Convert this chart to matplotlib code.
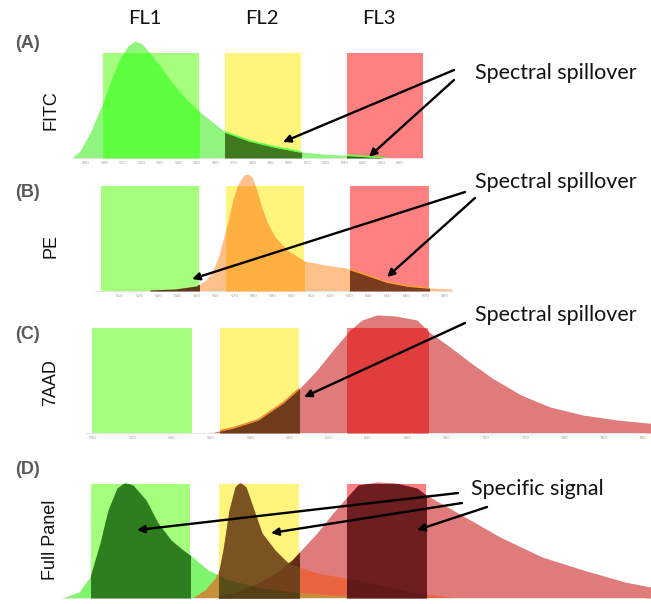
import numpy as np
import matplotlib.pyplot as plt

# figure size in pixels
W, H = 651, 604

# ---------------- data (wavelength nm / relative intensity) ----------------
# FITC emission (panel A)
fitc_nm = [486, 490, 495, 502, 506.5, 510.5, 514, 517.5, 521, 525, 530, 535, 543.5,
           550, 562.5, 575, 587.5, 600.5, 615, 630, 642.5]
fitc_int = [0, 0.067, 0.238, 0.552, 0.790, 0.962, 1.067, 1.114, 1.086, 1.0, 0.876,
            0.743, 0.552, 0.438, 0.248, 0.162, 0.105, 0.057, 0.033, 0.019, 0]

# PE emission (panel B)
pe_nm = [525, 537.5, 548, 552.5, 556, 559, 561.5, 564, 566.5, 569, 572, 574, 576, 578,
         580.5, 583.5, 587.5, 593.5, 602, 612.5, 623, 633.5, 643.5, 654, 664.5, 676]
pe_int = [0.01, 0.019, 0.048, 0.095, 0.181, 0.314, 0.486, 0.657, 0.867, 1.019, 1.105,
          1.114, 1.086, 0.981, 0.819, 0.657, 0.514, 0.390, 0.286, 0.248, 0.219, 0.152,
          0.086, 0.048, 0.029, 0.019]

# 7AAD emission (panel C)
aad_nm = [555, 566.5, 579, 591.5, 600, 608.5, 616.5, 625, 631, 638.5, 648, 658.5, 664.5,
          675, 685.5, 696, 710.5, 725, 741.5, 758.5, 774, 775.5]
aad_int = [0, 0.048, 0.124, 0.286, 0.429, 0.6, 0.790, 0.981, 1.076, 1.124, 1.114, 1.076,
           0.962, 0.819, 0.667, 0.524, 0.362, 0.248, 0.171, 0.124, 0.095, 0.093]

# full panel (panel D)
d_fitc_nm = [481, 489.5, 495, 500, 504, 508.5, 512.5, 516.5, 523, 529, 535.5, 541.5, 545,
             554, 564.5, 579, 596, 616.5, 637.5, 658.5]
d_fitc_int = [0, 0.053, 0.184, 0.482, 0.772, 0.965, 1.018, 0.991, 0.860, 0.658, 0.509,
              0.421, 0.377, 0.246, 0.158, 0.096, 0.053, 0.026, 0.009, 0]
d_pe_nm = [546, 552.5, 557.5, 559.5, 561.5, 564.5, 567.5, 570, 573, 577, 581, 587.5, 593.5,
           599.5, 608.5, 623, 640, 658.5, 679]
d_pe_int = [0, 0.070, 0.175, 0.246, 0.421, 0.772, 0.974, 1.018, 0.974, 0.772, 0.570,
            0.421, 0.316, 0.272, 0.219, 0.175, 0.114, 0.044, 0]
d_aad_nm = [554, 566.5, 579, 587.5, 596, 608.5, 616.5, 623.5, 629, 638.5, 648, 658.5, 663,
            679, 700, 721, 741.5, 762.5, 775.5]
d_aad_int = [0, 0.044, 0.132, 0.219, 0.333, 0.570, 0.746, 0.886, 0.991, 1.018, 1.009,
             0.965, 0.904, 0.746, 0.535, 0.360, 0.246, 0.140, 0.096]

# detector filter windows (FL1, FL2, FL3) per panel
bands_a = [(501.5, 549.5), (562.5, 600.5), (623.5, 661.5)]
bands_b = [(500.5, 549.5), (563, 602), (625, 664.5)]
bands_c = [(496, 546), (560, 599.5), (623.5, 664)]
bands_d = [(495.5, 545), (559.5, 599.5), (623.5, 663)]
band_colors = ['#a4ff7d', '#fff57c', '#ff8080']

# axis tick labels (tiny, as in the original screenshots)
ticks_a = [str(v) for v in range(490, 670, 10)]
ticks_b = [str(v) for v in range(510, 690, 10)]
ticks_c = [str(v) for v in range(500, 800, 20)]

# ---------------- layout ----------------
fig = plt.figure(figsize=(W / 100, H / 100), dpi=100)


def fx(px):
    return px / W


def fy(py):
    return 1 - py / H


def make_ax(baseline, bandtop, extra=16):
    h = baseline - bandtop
    ax = fig.add_axes([fx(60), fy(baseline), fx(651) - fx(60), (h + extra) / H])
    ax.set_xlim(480, 775.5)
    ax.set_ylim(0, (h + extra) / h)
    ax.set_facecolor('none')
    for s in ['top', 'left', 'right']:
        ax.spines[s].set_visible(False)
    ax.spines['bottom'].set_color('#e4e4e4')
    ax.spines['bottom'].set_linewidth(0.7)
    ax.set_yticks([])
    ax.tick_params(axis='x', length=0, pad=2, labelsize=3, labelcolor='#a0a0a0')
    return ax


def draw_bands(ax, bands):
    ymax = 1 / ax.get_ylim()[1]
    return [ax.axvspan(lo, hi, ymin=0, ymax=ymax, color=c, lw=0, zorder=1)
            for (lo, hi), c in zip(bands, band_colors)]


def fill_in_band(ax, x, y, rect, color, z, alpha=1.0, edge=None):
    p = ax.fill_between(x, y, color=color, lw=0, zorder=z, alpha=alpha)
    p.set_clip_path(rect)
    if edge:
        ln, = ax.plot(x, y, color=edge, lw=1.3, zorder=z + 0.5)
        ln.set_clip_path(rect)


def arrow(ax, head, tail):
    ax.annotate('', xy=head, xycoords='data', xytext=(fx(tail[0]), fy(tail[1])),
                textcoords='figure fraction', annotation_clip=False, zorder=20,
                arrowprops=dict(arrowstyle='-|>', color='black', lw=1.7,
                                mutation_scale=11, shrinkA=0, shrinkB=0))


# panel A - FITC
ax_a = make_ax(158, 53)
ra = draw_bands(ax_a, bands_a)
ax_a.fill_between(fitc_nm, fitc_int, color='#8ff57e', lw=0, zorder=2)
fill_in_band(ax_a, fitc_nm, fitc_int, ra[0], '#5eff3e', 3)
fill_in_band(ax_a, fitc_nm, fitc_int, ra[1], '#3f7a1f', 3, edge='#66ff44')
fill_in_band(ax_a, fitc_nm, fitc_int, ra[2], '#365e19', 3, edge='#66ff44')
ax_a.set_xticks(np.linspace(493, 650, len(ticks_a)), ticks_a)
ax_a.spines['bottom'].set_bounds(486.5, 662.5)
arrow(ax_a, (591.5, 0.152), (454, 70))
arrow(ax_a, (634.5, 0.012), (454, 80))

# panel B - PE
ax_b = make_ax(291, 186)
rb = draw_bands(ax_b, bands_b)
ax_b.fill_between(pe_nm, pe_int, color='#ffc08a', lw=0, zorder=2)
fill_in_band(ax_b, pe_nm, pe_int, rb[0], '#5b3a1c', 3)
fill_in_band(ax_b, pe_nm, pe_int, rb[1], '#ffb040', 3)
fill_in_band(ax_b, pe_nm, pe_int, rb[2], '#7a3b1e', 3, edge='#ff9a3a')
ax_b.set_xticks(np.linspace(510, 672.5, len(ticks_b)), ticks_b)
ax_b.spines['bottom'].set_bounds(497.5, 676)
arrow(ax_b, (546, 0.114), (465, 192))
arrow(ax_b, (643.5, 0.133), (475, 198))

# panel C - 7AAD
ax_c = make_ax(433, 328)
rc = draw_bands(ax_c, bands_c)
ax_c.fill_between(aad_nm, aad_int, color='#e07b7b', lw=0, zorder=2)
fill_in_band(ax_c, aad_nm, aad_int, rc[1], '#6e3b1b', 3, edge='#f08a30')
fill_in_band(ax_c, aad_nm, aad_int, rc[2], '#e23d3d', 3)
ax_c.set_xticks(np.linspace(496.5, 771.5, len(ticks_c)), ticks_c)
ax_c.spines['bottom'].set_bounds(492.5, 772.5)
arrow(ax_c, (602, 0.343), (465, 323))

# panel D - full panel
ax_d = make_ax(598, 484)
rd = draw_bands(ax_d, bands_d)
ax_d.fill_between(d_aad_nm, d_aad_int, color='#e07b7b', lw=0, zorder=2)
ax_d.fill_between(d_fitc_nm, d_fitc_int, color='#80f46c', lw=0, zorder=2.2)
ax_d.fill_between(d_pe_nm, d_pe_int, color='#f05a20', lw=0, zorder=2.4, alpha=0.65)
# signal collected in each detector
fill_in_band(ax_d, d_aad_nm, d_aad_int, rd[1], '#6a3318', 3)
fill_in_band(ax_d, d_pe_nm, d_pe_int, rd[1], '#7b5322', 3.2)
fill_in_band(ax_d, d_fitc_nm, d_fitc_int, rd[1], '#2e4a10', 3.4, alpha=0.45)
fill_in_band(ax_d, d_aad_nm, d_aad_int, rd[1], '#5a1a10', 3.6, alpha=0.3)
fill_in_band(ax_d, d_fitc_nm, d_fitc_int, rd[0], '#2e7d1f', 3)
fill_in_band(ax_d, d_aad_nm, d_aad_int, rd[2], '#6e1d20', 3)
fill_in_band(ax_d, d_pe_nm, d_pe_int, rd[2], '#4a120c', 3.2, alpha=0.35)
ax_d.set_xticks([])
ax_d.spines['bottom'].set_bounds(481, 772.5)
arrow(ax_d, (518.5, 0.596), (458, 493))
arrow(ax_d, (585.5, 0.570), (462, 503))
arrow(ax_d, (658.5, 0.596), (487, 507))

# ---------------- text ----------------
calib = 'Lato'
for lab, px in zip(['FL1', 'FL2', 'FL3'], [145, 262, 379]):
    fig.text(fx(px), fy(19), lab, ha='center', va='center', fontsize=14.5,
             family=calib, color='#111111')

for lab, py in zip(['(A)', '(B)', '(C)', '(D)'], [43, 192, 334, 470]):
    fig.text(fx(27), fy(py), lab, ha='center', va='center', fontsize=13,
             family='Liberation Sans', weight='bold', color='#595959')

for lab, py in zip(['FITC', 'PE', '7AAD', 'Full Panel'], [110, 246, 383, 540]):
    fig.text(fx(51), fy(py), lab, ha='center', va='center', fontsize=13,
             family='Liberation Sans', rotation=90, color='#111111')

for lab, py in zip(['Spectral spillover'] * 3 + ['Specific signal'], [73, 182, 315, 489]):
    fig.text(fx(556) if lab.startswith('Spectral') else fx(537), fy(py), lab,
             ha='center', va='center', fontsize=15.5, family=calib, color='#111111')

fig.savefig('out.png', dpi=100)
